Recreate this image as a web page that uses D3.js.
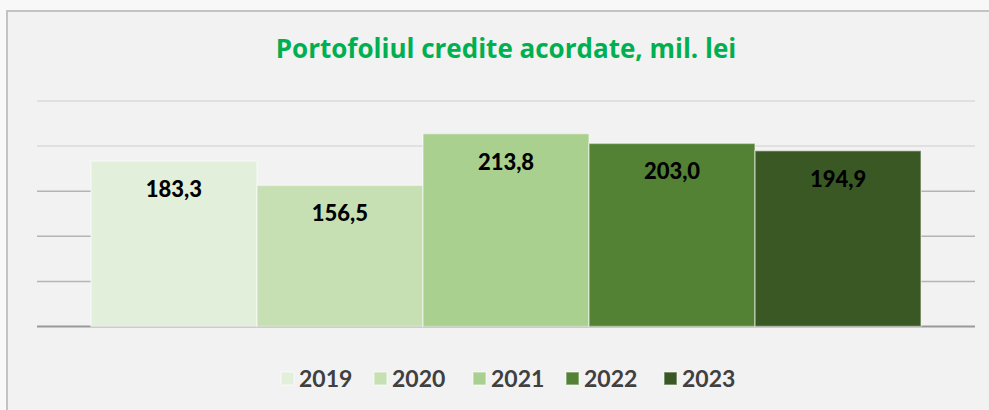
<!DOCTYPE html>
<html>
<head>
<meta charset="utf-8">
<script src="https://cdn.jsdelivr.net/npm/d3@7"></script>
<style>
  body { margin: 0; background: #f8f8f8; }
  svg { display: block; font-family: Lato, "Open Sans", sans-serif; }
</style>
</head>
<body>
<div id="chart-area"></div>
<script>
// data
const years = ["2019", "2020", "2021", "2022", "2023"]
const values = [183.3, 156.5, 213.8, 203.0, 194.9]
const colors = ["#e2efda", "#c6e0b4", "#a9d08e", "#548235", "#3a5823"]
const yTicks = [0, 50, 100, 150, 200, 250]

const W = 989, H = 410
const PLOT = { LEFT: 37, RIGHT: 975, TOP: 101, BOTTOM: 326.5 }

const svg = d3.select("#chart-area").append("svg")
  .attr("width", W)
  .attr("height", H)

// panel
svg.append("rect")
  .attr("x", 7).attr("y", 11)
  .attr("width", W + 10).attr("height", H + 10)
  .attr("fill", "#f2f2f2")
  .attr("stroke", "#c3c3c3")
  .attr("stroke-width", 2)

// title
svg.append("text")
  .attr("x", 506)
  .attr("y", 58)
  .attr("text-anchor", "middle")
  .attr("font-family", "'Open Sans', sans-serif")
  .attr("font-size", "26px")
  .attr("font-weight", "bold")
  .attr("fill", "#00b050")
  .text("Portofoliul credite acordate, mil. lei")

// scales
const x0 = d3.scaleBand()
  .domain(["all"])
  .range([PLOT.LEFT, PLOT.RIGHT])
  .paddingOuter(0.065)
const x = d3.scaleBand()
  .domain(years)
  .range([x0("all"), x0("all") + x0.bandwidth()])
  .padding(0)
const y = d3.scaleLinear()
  .domain([0, 250])
  .range([PLOT.BOTTOM, PLOT.TOP])

// gridlines
const grid = svg.append("g")
grid.selectAll("line")
  .data(yTicks)
  .enter().append("line")
  .attr("x1", PLOT.LEFT).attr("x2", PLOT.RIGHT)
  .attr("y1", d => y(d)).attr("y2", d => y(d))
  .attr("stroke", d => d == 0 ? "#9a9a9a" : (d >= 200 ? "#dadada" : "#b4b4b4"))
  .attr("stroke-width", d => d == 0 ? 2 : 1.5)

// bars
svg.selectAll("rect.bar")
  .data(values)
  .enter().append("rect")
  .attr("class", "bar")
  .attr("x", (d, i) => x(years[i]))
  .attr("y", d => y(d))
  .attr("width", x.bandwidth())
  .attr("height", d => y(0) - y(d))
  .attr("fill", (d, i) => colors[i])
  .attr("stroke", "rgba(255,255,255,0.45)")
  .attr("stroke-width", 1.5)

// value labels
svg.selectAll("text.val")
  .data(values)
  .enter().append("text")
  .attr("class", "val")
  .attr("x", (d, i) => x(years[i]) + x.bandwidth() / 2)
  .attr("y", d => y(d) + 36)
  .attr("text-anchor", "middle")
  .attr("font-size", "22px")
  .attr("font-weight", "900")
  .attr("fill", "#000")
  .text(d => d3.format(".1f")(d).replace(".", ","))

// legend
const legendX = [281, 374, 473, 566, 664]
const legend = svg.append("g")
const items = legend.selectAll("g")
  .data(years)
  .enter().append("g")
  .attr("transform", (d, i) => `translate(${legendX[i]}, 372)`)
items.append("rect")
  .attr("width", 13).attr("height", 13)
  .attr("fill", (d, i) => colors[i])
  .attr("stroke", "rgba(255,255,255,0.45)")
  .attr("stroke-width", 1.5)
items.append("text")
  .attr("x", 18)
  .attr("y", 14.5)
  .attr("font-size", "23px")
  .attr("font-weight", "bold")
  .attr("fill", "#404040")
  .text(d => d)
</script>
</body>
</html>
